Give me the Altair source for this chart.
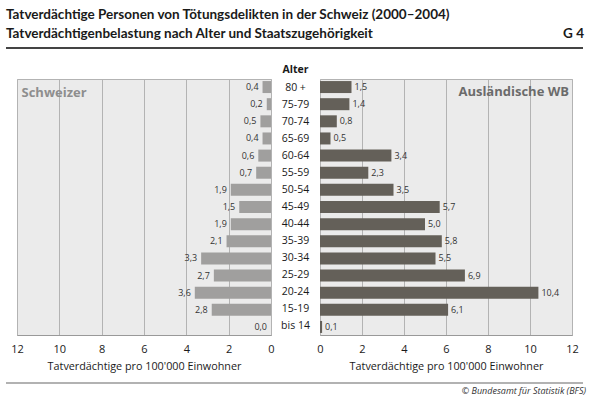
import altair as alt
import pandas as pd

ages = ["80 +", "75-79", "70-74", "65-69", "60-64", "55-59", "50-54", "45-49",
        "40-44", "35-39", "30-34", "25-29", "20-24", "15-19", "bis 14"]
schweizer = [0.4, 0.2, 0.5, 0.4, 0.6, 0.7, 1.9, 1.5, 1.9, 2.1, 3.3, 2.7, 3.6, 2.8, 0.0]
auslaender = [1.5, 1.4, 0.8, 0.5, 3.4, 2.3, 3.5, 5.7, 5.0, 5.8, 5.5, 6.9, 10.4, 6.1, 0.1]
ticks = [0, 2, 4, 6, 8, 10, 12]

title1 = "Tatverdächtige Personen von Tötungsdelikten in der Schweiz (2000–2004)"
title2 = "Tatverdächtigenbelastung nach Alter und Staatszugehörigkeit"
xtitle = "Tatverdächtige pro 100'000 Einwohner"
source = "© Bundesamt für Statistik (BFS)"

FONT = "Open Sans"
TFONT = "Lato"
df = pd.DataFrame({"age": ages, "ch": schweizer, "aus": auslaender})
one = pd.DataFrame({"k": [0]})

W_L, W_M, W_R, H = 254, 49, 252, 256

yenc = alt.Y("age:N", sort=ages, axis=None,
             scale=alt.Scale(paddingInner=0.3, paddingOuter=0.12))


def axis():
    return alt.Axis(values=ticks, title=xtitle, grid=True, ticks=False,
                    labelPadding=8, titlePadding=6, format="d", labelFlush=False)


base = alt.Chart(df).transform_calculate(
    lch="replace(format(datum.ch, '.1f'), '.', ',')",
    laus="replace(format(datum.aus, '.1f'), '.', ',')",
)

left_bars = base.mark_bar(color="#a09f9e").encode(
    x=alt.X("ch:Q", scale=alt.Scale(domain=[0, 12], reverse=True), axis=axis()),
    y=yenc,
)
left_text = base.mark_text(align="right", dx=-4, fontSize=9, color="#333333", font=FONT).encode(
    x="ch:Q", y=yenc, text="lch:N"
)
left_lab = alt.Chart(one).mark_text(align="left", baseline="middle", fontSize=13,
                                    fontWeight="bold", color="#8e8e8e", font=FONT).encode(
    x=alt.value(4.5), y=alt.value(13.5), text=alt.value("Schweizer"))
t1 = alt.Chart(one).mark_text(align="left", baseline="middle", fontSize=13.5,
                              fontWeight="bold", color="#1a1a1a", font=TFONT).encode(
    x=alt.value(-11), y=alt.value(-64), text=alt.value(title1))
t2 = alt.Chart(one).mark_text(align="left", baseline="middle", fontSize=13.5,
                              fontWeight="bold", color="#1a1a1a", font=TFONT).encode(
    x=alt.value(-11), y=alt.value(-45), text=alt.value(title2))
rule_top = alt.Chart(one).mark_rule(color="#444444", strokeWidth=2).encode(
    x=alt.value(-11), x2=alt.value(566), y=alt.value(-31))
rule_bot = alt.Chart(one).mark_rule(color="#999999", strokeWidth=1.5).encode(
    x=alt.value(-11), x2=alt.value(566), y=alt.value(304))

left = alt.layer(left_bars, left_text, left_lab, t1, t2, rule_top, rule_bot).properties(
    width=W_L, height=H)

mid_text = alt.Chart(df).mark_text(align="center", baseline="middle", fontSize=10.5,
                                   color="#1a1a1a", font=FONT).encode(
    y=yenc, x=alt.value(W_M / 2), text="age:N")
mid_head = alt.Chart(one).mark_text(align="center", baseline="middle", fontSize=10.5,
                                    fontWeight="bold", color="#1a1a1a", font=FONT).encode(
    x=alt.value(W_M / 2), y=alt.value(-9), text=alt.value("Alter"))
mid = alt.layer(mid_text, mid_head).properties(
    width=W_M, height=H, view=alt.ViewBackground(stroke="transparent", fill="transparent"))

right_bars = base.mark_bar(color="#646059").encode(
    x=alt.X("aus:Q", scale=alt.Scale(domain=[0, 12]), axis=axis()),
    y=yenc,
)
right_text = base.mark_text(align="left", dx=3, fontSize=9, color="#333333", font=FONT).encode(
    x="aus:Q", y=yenc, text="laus:N")
right_lab = alt.Chart(one).mark_text(align="right", baseline="middle", fontSize=13,
                                     fontWeight="bold", color="#6b6b6b", font=FONT).encode(
    x=alt.value(249), y=alt.value(12.7), text=alt.value("Ausländische WB"))
g4 = alt.Chart(one).mark_text(align="right", baseline="middle", fontSize=13.5,
                              fontWeight="bold", color="#1a1a1a", font=TFONT).encode(
    x=alt.value(264), y=alt.value(-45), text=alt.value("G 4"))
src = alt.Chart(one).mark_text(align="right", baseline="middle", fontSize=9,
                               fontStyle="italic", color="#333333", font=FONT).encode(
    x=alt.value(266), y=alt.value(312), text=alt.value(source))
right = alt.layer(right_bars, right_text, right_lab, g4, src).properties(width=W_R, height=H)

chart = alt.hconcat(left, mid, right, spacing=0, bounds="flush").properties(
    padding={"left": 4, "top": 7, "right": 4, "bottom": 4}
).configure_view(
    fill="#ebebeb", stroke="#b3b3b3", strokeWidth=1
).configure_axis(
    labelFont=FONT, titleFont=FONT, labelFontSize=11, titleFontSize=10.8,
    labelColor="#1a1a1a", titleColor="#1a1a1a", titleFontWeight="normal",
    gridColor="#b3b3b3", gridWidth=1, domainColor="#999999",
)

chart.save("out.html", embed_options={"renderer": "svg", "actions": False})
